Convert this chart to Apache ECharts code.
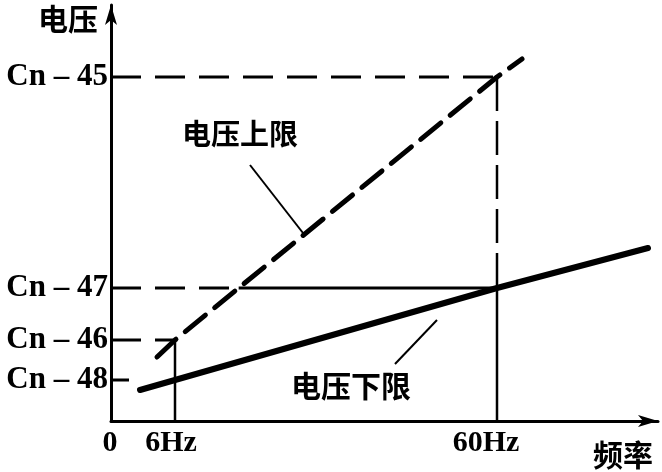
<!DOCTYPE html>
<html>
<head>
<meta charset="utf-8">
<script src="https://cdn.jsdelivr.net/npm/echarts@6/dist/echarts.min.js"></script>
<style>html,body{margin:0;padding:0;background:#fff}#c{width:662px;height:472px}</style>
</head>
<body>
<div id="c"></div>
<script>
// Schematic axes (positions in schematic units, labels as printed)
const xTickValues = [0, 64, 386];
const xTickLabels = ['0', '6Hz', '60Hz'];
const yTickValues = [41, 81, 133, 344];
const yTickLabels = ['Cn – 48', 'Cn – 46', 'Cn – 47', 'Cn – 45'];

// Voltage upper limit (dashed) and lower limit (solid)
const upperX = [46, 64, 386, 411];
const upperY = [64, 81, 344, 362];
const lowerX = [29, 64, 386, 537];
const lowerY = [31, 41, 133, 173];

// Leader lines for the annotations
const upperLeaderX = [139, 192];
const upperLeaderY = [256, 188];
const lowerLeaderX = [284, 326];
const lowerLeaderY = [57, 101];

const X6 = xTickValues[1], X60 = xTickValues[2];
const L48 = yTickValues[0], L46 = yTickValues[1], L47 = yTickValues[2], L45 = yTickValues[3];

const pairs = (xs, ys) => xs.map((x, i) => [x, ys[i]]);
// x where upper line reaches Cn-47 level
function crossX(xs, ys, y) {
  for (let i = 0; i < xs.length - 1; i++) {
    if ((ys[i] - y) * (ys[i + 1] - y) <= 0) {
      return xs[i] + (y - ys[i]) * (xs[i + 1] - xs[i]) / (ys[i + 1] - ys[i]);
    }
  }
  return xs[0];
}
const xc47 = crossX(upperX, upperY, L47);

function seg(data, width, type) {
  return {
    type: 'line', data: data, symbol: 'none', silent: true, animation: false,
    lineStyle: { color: '#000', width: width, type: type || 'solid', cap: 'butt' },
    z: 2
  };
}

const chart = echarts.init(document.getElementById('c'));
const serif = '"Liberation Serif", "DejaVu Serif", serif';
const cjk = '"Noto Sans CJK SC", sans-serif';
const xRichKeys = ['a', 'b', 'c'];
chart.setOption({
  backgroundColor: '#fff',
  animation: false,
  grid: { left: 111, right: 4, top: 5, bottom: 51, outerBoundsMode: 'none', containLabel: false },
  xAxis: {
    type: 'value', min: 0, max: 547,
    axisLine: { show: true, symbol: ['none', 'arrow'], symbolSize: [9, 20], lineStyle: { color: '#000', width: 3 } },
    axisTick: { show: false },
    splitLine: { show: false },
    axisLabel: {
      customValues: xTickValues,
      formatter: v => {
        const i = xTickValues.indexOf(v);
        return '{' + xRichKeys[i] + '|' + xTickLabels[i] + '}';
      },
      color: '#000', fontFamily: serif, fontWeight: 'bold', fontSize: 30, margin: 7,
      rich: {
        a: { color: '#000', fontFamily: serif, fontWeight: 'bold', fontSize: 30, padding: [0, 2, 0, 0] },
        b: { color: '#000', fontFamily: serif, fontWeight: 'bold', fontSize: 30, padding: [0, 8, 0, 0] },
        c: { color: '#000', fontFamily: serif, fontWeight: 'bold', fontSize: 30, padding: [0, 22, 0, 0] }
      }
    }
  },
  yAxis: {
    type: 'value', min: 0, max: 416,
    axisLine: { show: true, symbol: ['none', 'arrow'], symbolSize: [9, 20], lineStyle: { color: '#000', width: 3 } },
    axisTick: { show: false },
    splitLine: { show: false },
    axisLabel: {
      customValues: yTickValues,
      formatter: v => yTickLabels[yTickValues.indexOf(v)],
      color: '#000', fontFamily: serif, fontWeight: 'bold', fontSize: 31, margin: 3
    }
  },
  graphic: [
    { type: 'text', left: 38, top: 4, style: { text: '电压', font: 'bold 30px ' + cjk, fill: '#000' } },
    { type: 'text', left: 593, top: 440, style: { text: '频率', font: 'bold 30px ' + cjk, fill: '#000' } },
    { type: 'text', left: 182, top: 119, style: { text: '电压上限', font: 'bold 29px ' + cjk, fill: '#000' } },
    { type: 'text', left: 291, top: 371, style: { text: '电压下限', font: 'bold 30px ' + cjk, fill: '#000' } }
  ],
  series: [
    seg([[0, L45], [X60, L45]], 3, [30, 14]),
    seg([[X60, L45], [X60, L47]], 2.5, [34, 10]),
    seg([[X60, L47], [X60, 0]], 2.5),
    seg([[0, L47], [xc47, L47]], 3, [30, 14]),
    seg([[xc47, L47], [X60, L47]], 3),
    seg([[0, L46], [X6, L46]], 3, [30, 14]),
    seg([[X6, L46], [X6, 0]], 2.5),
    seg([[0, L48], [lowerX[0], L48]], 3, [18, 14]),
    seg(pairs(upperLeaderX, upperLeaderY), 2),
    seg(pairs(lowerLeaderX, lowerLeaderY), 2),
    {
      type: 'line', name: '电压上限', data: pairs(upperX, upperY), symbol: 'none', animation: false,
      lineStyle: { color: '#000', width: 5, type: [26, 12], cap: 'round' }, z: 3
    },
    {
      type: 'line', name: '电压下限', data: pairs(lowerX, lowerY), symbol: 'none', animation: false,
      lineStyle: { color: '#000', width: 6, cap: 'round' }, z: 3
    }
  ]
});
</script>
</body>
</html>
